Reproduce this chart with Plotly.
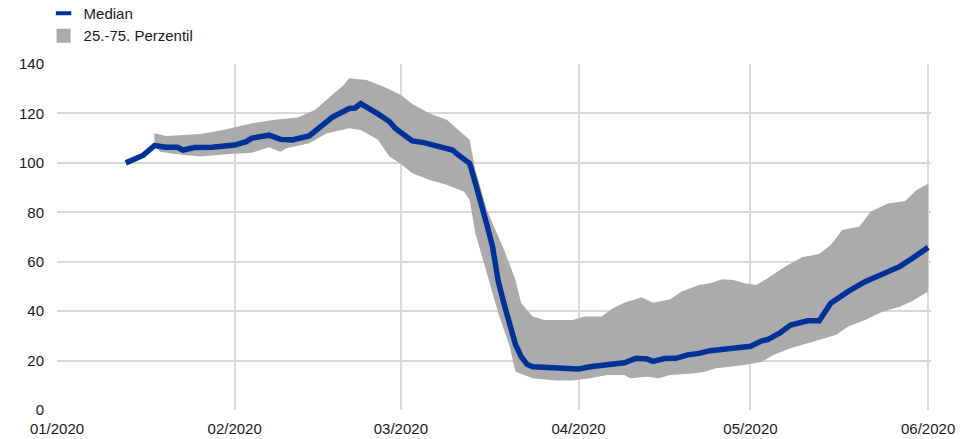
import plotly.graph_objects as go

# ---- Data ----
median_dates = [
    "2020-01-13", "2020-01-14", "2020-01-16", "2020-01-17", "2020-01-18", "2020-01-20",
    "2020-01-22", "2020-01-23", "2020-01-25", "2020-01-28", "2020-01-30", "2020-02-01",
    "2020-02-03", "2020-02-04", "2020-02-07", "2020-02-09", "2020-02-11", "2020-02-14",
    "2020-02-16", "2020-02-18", "2020-02-21", "2020-02-22", "2020-02-23", "2020-02-24",
    "2020-02-26", "2020-02-28", "2020-02-29", "2020-03-02", "2020-03-03", "2020-03-05",
    "2020-03-07", "2020-03-08", "2020-03-10", "2020-03-11", "2020-03-13", "2020-03-14",
    "2020-03-15", "2020-03-16", "2020-03-17", "2020-03-18", "2020-03-19", "2020-03-20",
    "2020-03-21", "2020-03-22", "2020-03-23", "2020-03-24", "2020-03-26", "2020-03-28",
    "2020-04-01", "2020-04-03", "2020-04-05", "2020-04-07", "2020-04-09", "2020-04-11",
    "2020-04-13", "2020-04-14", "2020-04-16", "2020-04-18", "2020-04-20", "2020-04-22",
    "2020-04-24", "2020-04-26", "2020-04-28", "2020-04-30", "2020-05-01", "2020-05-03",
    "2020-05-04", "2020-05-06", "2020-05-08", "2020-05-11", "2020-05-13", "2020-05-15",
    "2020-05-18", "2020-05-21", "2020-05-24", "2020-05-27", "2020-05-29", "2020-06-01",
]
median_values = [
    100.0, 101.0, 103.0, 105.0, 107.0, 106.3,
    106.3, 105.2, 106.2, 106.3, 106.5, 107.2,
    108.6, 110.0, 111.2, 109.5, 109.3, 110.9,
    114.7, 118.4, 122.0, 122.2, 124.0, 122.8,
    119.8, 116.7, 114.0, 110.6, 108.9, 108.2,
    107.1, 106.8, 105.2, 103.2, 99.8, 91.9,
    82.3, 75.0, 66.0, 52.0, 43.0, 35.5,
    26.5, 21.6, 18.5, 17.5, 17.3, 16.6,
    16.6, 17.5, 18.0, 18.9, 19.1, 20.9,
    20.6, 19.7, 20.8, 20.9, 22.3, 22.9,
    24.0, 24.5, 25.0, 25.3, 25.8, 28.0,
    28.5, 31.0, 34.4, 36.1, 36.1, 43.2,
    47.9, 51.9, 55.0, 58.0, 61.0, 65.8,
]

p75_dates = [
    "2020-01-18", "2020-01-20", "2020-01-26", "2020-01-30", "2020-02-04", "2020-02-08",
    "2020-02-12", "2020-02-15", "2020-02-17", "2020-02-20", "2020-02-21", "2020-02-24",
    "2020-02-27", "2020-03-01", "2020-03-03", "2020-03-06", "2020-03-09", "2020-03-11",
    "2020-03-13", "2020-03-14", "2020-03-16", "2020-03-19", "2020-03-21", "2020-03-22",
    "2020-03-24", "2020-03-26", "2020-03-31", "2020-04-02", "2020-04-05", "2020-04-07",
    "2020-04-09", "2020-04-12", "2020-04-14", "2020-04-17", "2020-04-19", "2020-04-22",
    "2020-04-24", "2020-04-26", "2020-04-28", "2020-04-30", "2020-05-02", "2020-05-04",
    "2020-05-07", "2020-05-10", "2020-05-13", "2020-05-15", "2020-05-17", "2020-05-20",
    "2020-05-22", "2020-05-25", "2020-05-28", "2020-05-30", "2020-06-01",
]
p75_values = [
    112.0, 110.9, 111.7, 113.3, 116.0, 117.4,
    118.4, 121.4, 125.4, 131.5, 134.2, 133.5,
    130.8, 127.5, 123.8, 120.0, 117.4, 113.3,
    109.3, 97.1, 80.9, 64.8, 52.6, 43.2,
    37.8, 36.4, 36.4, 37.8, 37.8, 41.2,
    43.4, 45.6, 43.4, 44.8, 47.9, 50.6,
    51.3, 52.9, 52.6, 51.3, 50.6, 53.3,
    58.0, 61.8, 63.1, 66.8, 72.8, 74.2,
    80.3, 83.6, 84.6, 89.0, 91.5,
]

p25_dates = [
    "2020-01-18", "2020-01-19", "2020-01-22", "2020-01-26", "2020-01-29", "2020-01-31",
    "2020-02-04", "2020-02-07", "2020-02-09", "2020-02-10", "2020-02-14", "2020-02-17",
    "2020-02-21", "2020-02-23", "2020-02-26", "2020-02-28", "2020-03-01", "2020-03-03",
    "2020-03-06", "2020-03-09", "2020-03-12", "2020-03-13", "2020-03-14", "2020-03-16",
    "2020-03-18", "2020-03-20", "2020-03-21", "2020-03-24", "2020-03-28", "2020-03-31",
    "2020-04-03", "2020-04-06", "2020-04-09", "2020-04-10", "2020-04-13", "2020-04-15",
    "2020-04-17", "2020-04-21", "2020-04-23", "2020-04-25", "2020-04-28", "2020-04-30",
    "2020-05-03", "2020-05-05", "2020-05-08", "2020-05-11", "2020-05-13", "2020-05-16",
    "2020-05-18", "2020-05-21", "2020-05-24", "2020-05-27", "2020-05-29", "2020-06-01",
]
p25_values = [
    107.2, 104.5, 103.5, 102.6, 103.2, 103.6,
    104.1, 106.3, 104.5, 105.9, 107.9, 111.9,
    114.0, 113.3, 109.3, 102.6, 99.5, 95.8,
    93.1, 91.1, 88.4, 85.0, 71.5, 55.3,
    39.1, 25.6, 15.5, 12.8, 11.9, 11.9,
    12.8, 14.2, 14.2, 12.8, 13.5, 12.8,
    14.2, 14.8, 15.5, 16.9, 17.8, 18.2,
    19.5, 22.3, 25.0, 27.0, 28.3, 30.4,
    33.7, 36.4, 39.8, 41.8, 43.8, 47.9,
]

y_ticks = [0, 20, 40, 60, 80, 100, 120, 140]
x_tick_dates = ["2020-01-01", "2020-02-01", "2020-03-01", "2020-04-01", "2020-05-01", "2020-06-01"]
x_tick_labels = ["01/2020", "02/2020", "03/2020", "04/2020", "05/2020", "06/2020"]

BLUE = "#003299"
GREY = "#ABABAB"
FONT = "Liberation Sans, Arial, sans-serif"

fig = go.Figure()

# percentile band as a closed polygon (upper forward, lower backward)
fig.add_trace(go.Scatter(
    x=p75_dates + p25_dates[::-1],
    y=p75_values + p25_values[::-1],
    fill="toself", fillcolor=GREY, mode="lines", line=dict(width=0, color=GREY),
    hoverinfo="skip", showlegend=False,
))
fig.add_trace(go.Scatter(
    x=median_dates, y=median_values, mode="lines",
    line=dict(color=BLUE, width=5.5), showlegend=False, name="Median",
))

# legend entries
fig.add_trace(go.Scatter(
    x=[None], y=[None], mode="markers", name="Median",
    marker=dict(symbol="line-ew", size=11, line=dict(color=BLUE, width=4), color=BLUE),
))
fig.add_trace(go.Scatter(
    x=[None], y=[None], mode="markers", name="25.-75. Perzentil",
    marker=dict(symbol="square", size=14, color=GREY),
))

fig.update_layout(
    template="none",
    width=968, height=439,
    margin=dict(l=57, r=37, t=64, b=29, autoexpand=False),
    paper_bgcolor="white", plot_bgcolor="white",
    font=dict(family=FONT, size=15, color="#1a1a1a"),
    legend=dict(
        xref="container", yref="paper",
        x=0.045, xanchor="left", y=1.194, yanchor="top",
        orientation="v", itemwidth=30, font=dict(size=15),
        bgcolor="rgba(0,0,0,0)", tracegroupgap=0,
    ),
    showlegend=True,
    hovermode=False,
)
fig.update_xaxes(
    type="date", range=["2020-01-01", "2020-06-01 12:00"],
    tickvals=x_tick_dates, ticktext=x_tick_labels,
    showgrid=True, gridcolor="#D9D9D9", gridwidth=2,
    showline=False, zeroline=False,
    ticks="outside", ticklen=5, tickcolor="rgba(0,0,0,0)",
    automargin=False,
)
fig.update_yaxes(
    range=[0, 140], tickvals=y_ticks,
    showgrid=True, gridcolor="#D9D9D9", gridwidth=2,
    showline=False, zeroline=False,
    ticks="outside", ticklen=9, tickcolor="rgba(0,0,0,0)",
    automargin=False,
)

fig.write_html(
    "out.html",
    config={"displayModeBar": False},
    post_script="document.body.style.margin='0';document.body.style.overflow='hidden';",
)
